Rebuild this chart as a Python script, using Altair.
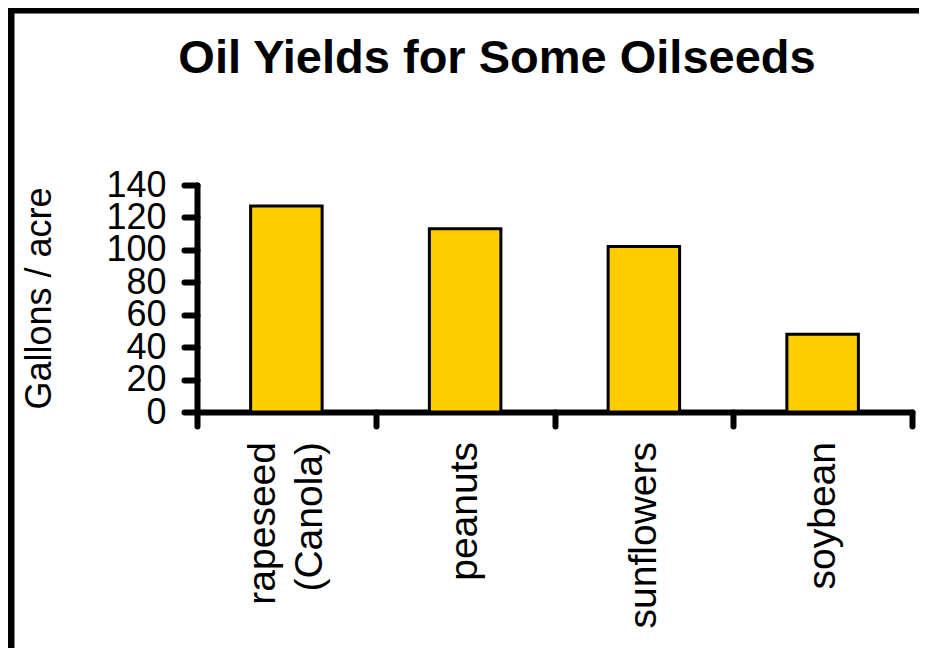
import altair as alt
import pandas as pd

title_text = "Oil Yields for Some Oilseeds"
crops = ["rapeseed (Canola)", "peanuts", "sunflowers", "soybean"]
gallons = [127, 113, 102, 48]
y_ticks = [0, 20, 40, 60, 80, 100, 120, 140]

data = pd.DataFrame({"crop": crops, "gallons": gallons})

FONT = "Liberation Sans"

x_scale = alt.Scale(domain=crops, paddingInner=0, paddingOuter=0)

base = alt.Chart(data)

bars = base.mark_bar(
    width=alt.RelativeBandSize(0.4),
    color="#FFCC00",
    stroke="black",
    strokeWidth=3,
).encode(
    x=alt.X(
        "crop:N",
        sort=None,
        scale=x_scale,
        axis=alt.Axis(
            title=None,
            labels=False,
            tickBand="extent",
            tickSize=14,
            tickWidth=6,
            tickCap="round",
            tickColor="black",
            domainWidth=6,
            domainCap="round",
            domainColor="black",
        ),
    ),
    y=alt.Y(
        "gallons:Q",
        scale=alt.Scale(domain=[0, 140], nice=False),
        axis=alt.Axis(
            values=y_ticks,
            title="Gallons / acre",
            titleFont=FONT,
            titleFontSize=36,
            titleFontWeight="normal",
            titleColor="black",
            titleAngle=270,
            titleX=-158,
            titleY=113,
            titleAlign="center",
            titleBaseline="middle",
            labelFont=FONT,
            labelFontSize=36,
            labelColor="black",
            labelOverlap=False,
            labelPadding=18,
            tickSize=13,
            tickWidth=6,
            tickCap="round",
            tickColor="black",
            domainWidth=6,
            domainCap="round",
            domainColor="black",
            grid=False,
        ),
    ),
)

label_style = dict(
    font=FONT,
    fontSize=39,
    color="black",
    angle=270,
    align="right",
    baseline="middle",
)

labels_single = base.transform_filter(
    "indexof(datum.crop, ' ') < 0"
).mark_text(**label_style).encode(
    x=alt.X("crop:N", sort=None, scale=x_scale),
    y=alt.value(257),
    text="crop:N",
)

labels_multi = base.transform_filter(
    "indexof(datum.crop, ' ') > 0"
).mark_text(lineBreak=" ", lineHeight=47, dy=-23, **label_style).encode(
    x=alt.X("crop:N", sort=None, scale=x_scale),
    y=alt.value(257),
    text="crop:N",
)

frame = alt.Chart(alt.Data(values=[{}])).mark_rect(
    filled=False, stroke="black", strokeWidth=7
).encode(
    x=alt.value(-186),
    x2=alt.value(760),
    y=alt.value(-175),
    y2=alt.value(480),
)

title = alt.Chart(alt.Data(values=[{"t": title_text}])).mark_text(
    font=FONT,
    fontSize=47,
    fontWeight="bold",
    color="black",
    align="center",
    baseline="alphabetic",
).encode(
    text="t:N",
    x=alt.value(300),
    y=alt.value(-112),
)

chart = alt.layer(frame, title, bars, labels_single, labels_multi).properties(
    width=715,
    height=227,
    autosize=alt.AutoSizeParams(type="none"),
    padding={"left": 189, "top": 177, "right": 7, "bottom": 236},
).configure_view(stroke=None)

chart.save("out.html", embed_options={"renderer": "svg", "actions": False})
